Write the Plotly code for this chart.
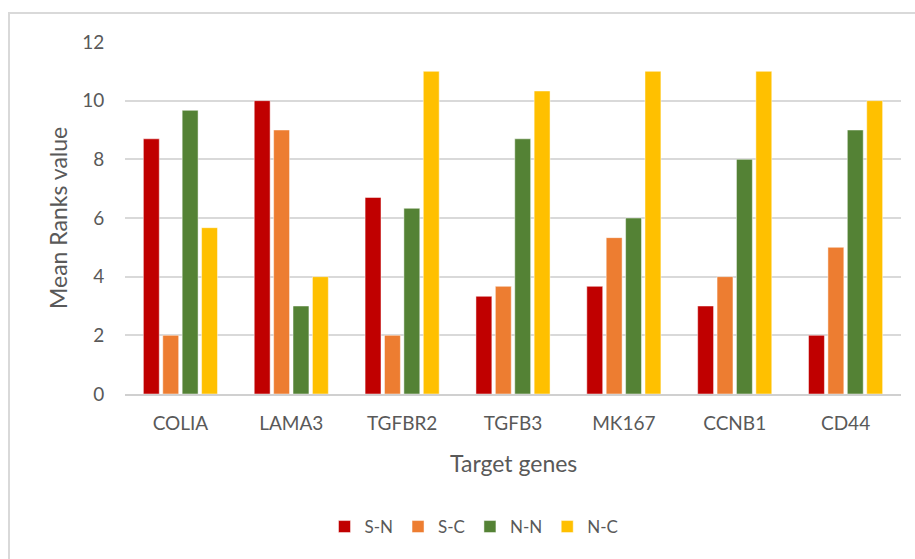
import plotly.graph_objects as go

genes = ["COLIA", "LAMA3", "TGFBR2", "TGFB3", "MK167", "CCNB1", "CD44"]
series_names = ["S-N", "S-C", "N-N", "N-C"]
s_n = [8.7, 10.0, 6.7, 3.33, 3.67, 3.0, 2.0]
s_c = [2.0, 9.0, 2.0, 3.67, 5.33, 4.0, 5.0]
n_n = [9.67, 3.0, 6.33, 8.7, 6.0, 8.0, 9.0]
n_c = [5.67, 4.0, 11.0, 10.33, 11.0, 11.0, 10.0]
colors = ["#C00000", "#ED7D31", "#548235", "#FFC000"]

fig = go.Figure()
for name, vals, col in zip(series_names, [s_n, s_c, n_n, n_c], colors):
    fig.add_trace(go.Bar(
        x=genes, y=vals, name=name,
        marker=dict(color=col, line=dict(color="rgba(255,255,255,0.6)", width=0.8)),
    ))

font_family = "Lato, 'Open Sans', sans-serif"
text_col = "#595959"

W, H = 915, 559
ml, mr, mt, mb = 125, 14, 42, 165
pw, ph = W - ml - mr, H - mt - mb

def px_x(p):
    return (p - ml) / pw

def px_y(p):
    return (H - mb - p) / ph

fig.update_layout(
    width=W, height=H,
    margin=dict(l=ml, r=mr, t=mt, b=mb),
    paper_bgcolor="white", plot_bgcolor="white",
    barmode="group", bargap=0.3, bargroupgap=0.18,
    font=dict(family=font_family, color=text_col, size=19),
    showlegend=True,
    legend=dict(
        orientation="h", x=px_x(474), xanchor="center",
        y=px_y(527), yanchor="middle",
        font=dict(size=17, color=text_col),
        itemwidth=30, traceorder="normal",
    ),
    xaxis=dict(
        showgrid=False, showline=True, linecolor="#D0D0D0", linewidth=1.5,
        ticks="outside", ticklen=11, tickcolor="rgba(0,0,0,0)",
        tickfont=dict(size=19, color=text_col),
    ),
    yaxis=dict(
        range=[0, 12], dtick=2, showgrid=True, gridcolor="#D9D9D9", gridwidth=1.5,
        zeroline=False, showline=False,
        ticks="outside", ticklen=16, tickcolor="rgba(0,0,0,0)",
        tickfont=dict(size=19, color=text_col),
    ),
    hovermode=False,
    annotations=[
        dict(text="Mean Ranks value", xref="paper", yref="paper",
             x=px_x(58), y=px_y(218), textangle=-90, showarrow=False,
             xanchor="center", yanchor="middle",
             font=dict(size=23, color=text_col, family=font_family)),
        dict(text="Target genes", xref="paper", yref="paper",
             x=px_x(513), y=px_y(463), showarrow=False,
             xanchor="center", yanchor="middle",
             font=dict(size=23, color=text_col, family=font_family)),
    ],
    shapes=[
        dict(type="rect", xref="paper", yref="paper",
             x0=px_x(9), x1=px_x(930), y0=px_y(580), y1=px_y(13),
             line=dict(color="#D9D9D9", width=2), fillcolor="rgba(0,0,0,0)",
             layer="below"),
    ],
)

fig.write_html("out.html")
